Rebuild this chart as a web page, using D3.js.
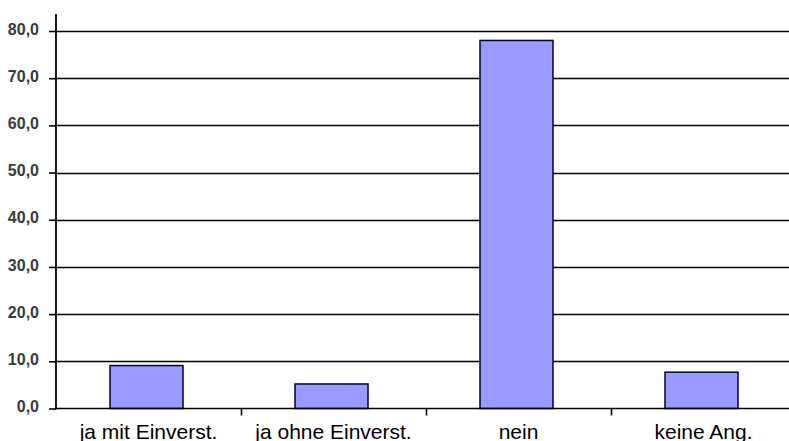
<!DOCTYPE html>
<html><head><meta charset="utf-8">
<script src="https://cdn.jsdelivr.net/npm/d3@7"></script>
<style>body{margin:0;background:#fff}svg{display:block}</style>
</head><body>
<svg id="c" width="789" height="441"></svg>
<script>
const categories = ["ja mit Einverst.", "ja ohne Einverst.", "nein", "keine Ang."];
const values = [9.1, 5.2, 78.0, 7.7];
const yTicks = [0, 10, 20, 30, 40, 50, 60, 70, 80];

const svg = d3.select("#c");
const left = 56, right = 796, bottom = 408.5;
const y = d3.scaleLinear().domain([0, 80]).range([bottom, 31]);
const x = d3.scaleBand().domain(categories).range([left, right]).paddingInner(0).paddingOuter(0);
const fmt = v => d3.format(".1f")(v).replace(".", ",");

// gridlines
svg.append("g").selectAll("line").data(yTicks.filter(d => d > 0)).join("line")
  .attr("x1", left).attr("x2", 789)
  .attr("y1", d => Math.round(y(d)) + 0.5).attr("y2", d => Math.round(y(d)) + 0.5)
  .attr("stroke", "#000").attr("stroke-width", 1.6);

// bars
const bw = 73;
svg.append("g").selectAll("rect").data(values).join("rect")
  .attr("x", (d, i) => x(categories[i]) + x.bandwidth() / 2 - bw / 2 - 2)
  .attr("y", d => y(d))
  .attr("width", bw)
  .attr("height", d => bottom - y(d))
  .attr("fill", "#9999FF")
  .attr("stroke", "#000033").attr("stroke-width", 1.5);

// y axis
const ya = svg.append("g").attr("transform", `translate(${left},0)`)
  .call(d3.axisLeft(y).tickValues(yTicks).tickFormat(fmt).tickSize(7).tickPadding(10));
ya.select(".domain").remove();
ya.selectAll(".tick line").attr("stroke", "#000").attr("stroke-width", 1.6);
ya.selectAll("text").attr("font-family", "Liberation Sans, Arial, sans-serif")
  .attr("font-size", 16).attr("font-weight", "bold").attr("fill", "#3a3a3a")
  .attr("dy", "0.2em");
svg.append("line").attr("x1", left).attr("x2", left).attr("y1", 14).attr("y2", bottom + 1)
  .attr("stroke", "#000").attr("stroke-width", 1.8);

// x axis
const xa = svg.append("g").attr("transform", `translate(0,${bottom})`)
  .call(d3.axisBottom(x).tickSize(0).tickPadding(0));
xa.select(".domain").attr("d", `M${left},0H789`).attr("stroke", "#000").attr("stroke-width", 1.6);
xa.selectAll("text").attr("font-family", "Liberation Sans, Arial, sans-serif")
  .attr("font-size", 21).attr("fill", "#000").attr("y", 30).attr("dy", null);
// category boundary ticks
svg.append("g").selectAll("line").data(categories.slice(1)).join("line")
  .attr("x1", d => Math.round(x(d)) + 0.5).attr("x2", d => Math.round(x(d)) + 0.5)
  .attr("y1", bottom).attr("y2", bottom + 7)
  .attr("stroke", "#000").attr("stroke-width", 1.6);
</script>
</body></html>
